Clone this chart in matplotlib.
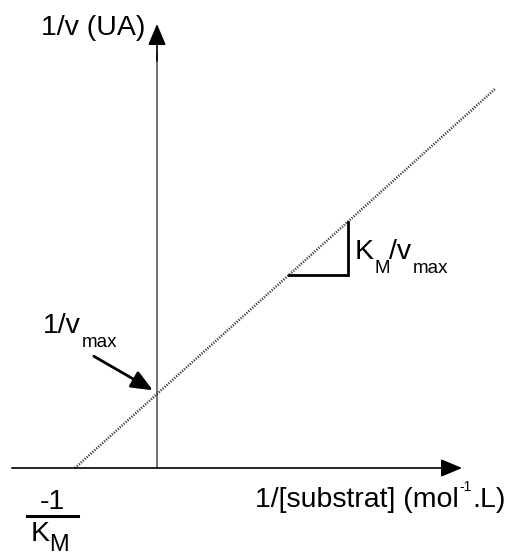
import matplotlib
matplotlib.use("Agg")
import matplotlib.pyplot as plt
import numpy as np

# Lineweaver-Burk: 1/v = (Km/vmax) * 1/[S] + 1/vmax
Km = 1.0
vmax = 1.0
x_start = -1.0 / Km      # x-intercept
x_end = 4.12             # right end of the drawn line
tri_x = [1.61, 2.33]     # slope triangle, horizontal leg

plt.rcParams['font.family'] = ['Liberation Sans', 'DejaVu Sans']

W, H = 521, 557
fig = plt.figure(figsize=(W / 100, H / 100), dpi=100)
ax = fig.add_axes([0, 0, 1, 1])
ax.set_xlim(-157 / 82, (W - 157) / 82)
ax.set_ylim(-89 / 74, 468 / 74)
ax.axis('off')
renderer = fig.canvas.get_renderer()


def line(x):
    return Km / vmax * x + 1 / vmax


def txt(x, y, s, size):
    # x, y in pixels from top left, y is the baseline
    return fig.text(x / W, 1 - y / H, s, fontsize=size, ha='left',
                    va='baseline')


def right_px(t):
    return t.get_window_extent(renderer).x1


head = '-|>,head_length=1.3,head_width=0.55'

# axes
ax.annotate('', xy=(3.72, 0), xytext=(-1.77, 0),
            arrowprops=dict(arrowstyle=head, color='black', lw=1.2,
                            shrinkA=0, shrinkB=0))
ax.plot([0, 0], [0, 5.6], color='#666666', lw=1.3)
ax.annotate('', xy=(0, 6.0), xytext=(0, 5.5),
            arrowprops=dict(arrowstyle=head, color='black', lw=1.2,
                            shrinkA=0, shrinkB=0))

# the line
xs = np.array([x_start, x_end])
ax.plot(xs, line(xs), color='#333333', lw=1.8, ls=(0, (0.45, 0.6)),
        dash_capstyle='butt')

# slope triangle
ax.plot([tri_x[0], tri_x[1], tri_x[1]],
        [line(tri_x[0]), line(tri_x[0]), line(tri_x[1])],
        color='black', lw=2, solid_joinstyle='miter')

fs = 20.5
sub = 13.5
txt(41, 35, '1/v (UA)', fs)

t = txt(255, 507, '1/[substrat] (mol', fs)
t = txt(right_px(t) + 1, 491, '-1', 10)
txt(right_px(t), 507, '.L)', fs)

# Km/vmax
txt(355, 259, 'K', fs)
txt(375, 273, 'M', sub)
txt(389, 259, '/v', fs)
txt(413, 273, 'max', sub)

# 1/vmax
txt(43, 333, '1/v', fs)
txt(82, 347, 'max', sub)

# -1/Km fraction
txt(40, 509, '-1', fs)
fig.add_artist(plt.Line2D([27 / W, 78 / W], [1 - 516 / H, 1 - 516 / H],
                          color='black', lw=2.2))
txt(31, 541, 'K', fs)
txt(49, 551, 'M', 17)

# arrow to 1/vmax
ax.annotate('', xy=(-0.05, line(0) + 0.05), xytext=(-0.77, line(0) + 0.51),
            arrowprops=dict(arrowstyle=head, color='black', lw=2,
                            shrinkA=0, shrinkB=0))

fig.savefig('out.png', dpi=100)
